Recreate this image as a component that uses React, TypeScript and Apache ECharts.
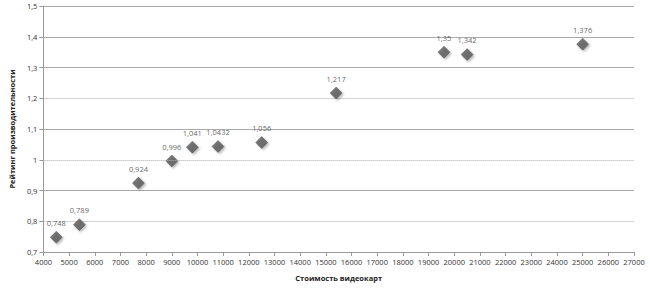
import React, { useEffect, useRef } from "react";
import * as echarts from "echarts";

const prices = [4500, 5400, 7700, 9000, 9800, 10800, 12500, 15400, 19600, 20500, 25000];
const ratings = [0.748, 0.789, 0.924, 0.996, 1.041, 1.0432, 1.056, 1.217, 1.35, 1.342, 1.376];
const xTitle = "Стоимость видеокарт";
const yTitle = "Рейтинг производительности";

export default function App() {
  const ref = useRef<HTMLDivElement>(null);
  useEffect(() => {
    if (!ref.current) return;
    const chart = echarts.init(ref.current, undefined, { renderer: "svg" });
    const font = "'Open Sans', 'DejaVu Sans', sans-serif";
    chart.setOption({
      animation: false,
      grid: { left: 40, right: 16, top: 6, bottom: 40 },
      xAxis: {
        type: "value",
        min: 4000,
        max: 27000,
        interval: 1000,
        name: xTitle,
        nameLocation: "middle",
        nameGap: 22,
        nameTextStyle: { fontSize: 7.5, fontWeight: "bold", color: "#222", fontFamily: font },
        axisLine: { show: true, lineStyle: { color: "#999" } },
        axisTick: { show: true, length: 4, lineStyle: { color: "#999" } },
        axisLabel: {
          fontSize: 7.5,
          color: "#333",
          fontFamily: font,
          margin: 6,
          formatter: (v: number) => String(v),
        },
        splitLine: { show: false },
      },
      yAxis: {
        type: "value",
        min: 0.7,
        max: 1.5,
        interval: 0.1,
        name: yTitle,
        nameLocation: "middle",
        nameGap: 22,
        nameRotate: 90,
        nameTextStyle: { fontSize: 7.5, fontWeight: "bold", color: "#222", fontFamily: font },
        axisLine: { show: true, lineStyle: { color: "#999" } },
        axisTick: { show: true, length: 4, inside: false, lineStyle: { color: "#999" } },
        axisLabel: {
          fontSize: 7.5,
          color: "#333",
          fontFamily: font,
          margin: 6,
          formatter: (v: number) => String(Math.round(v * 10) / 10).replace(".", ","),
        },
        splitLine: {
          show: true,
          lineStyle: {
            color: ["#aaa", "#d4d4d4", "#aaa", "rgba(0,0,0,0)", "#aaa", "#d4d4d4", "#aaa", "#aaa", "#aaa"],
            width: 1,
          },
        },
      },
      series: [
        {
          type: "scatter",
          data: prices.map((p, i) => [p, ratings[i]]),
          symbol: "diamond",
          symbolSize: [12, 12],
          itemStyle: {
            color: "#555",
            borderColor: "#444",
            borderWidth: 0.5,
            shadowColor: "rgba(0,0,0,0.35)",
            shadowBlur: 2,
            shadowOffsetX: 1.5,
            shadowOffsetY: 1.5,
          },
          label: {
            show: true,
            position: "top",
            distance: 4,
            fontSize: 7.5,
            color: "#3a3a3a",
            fontFamily: font,
            formatter: (p: any) => String(p.value[1]).replace(".", ","),
          },
          markLine: {
            silent: true,
            symbol: "none",
            label: { show: false },
            lineStyle: { color: "#aaa", type: "dotted", width: 1 },
            data: [{ yAxis: 1 }],
          },
        },
      ],
    });
    return () => chart.dispose();
  }, []);
  return <div ref={ref} style={{ width: 650, height: 292, position: "absolute", left: 0, top: 0 }} />;
}
